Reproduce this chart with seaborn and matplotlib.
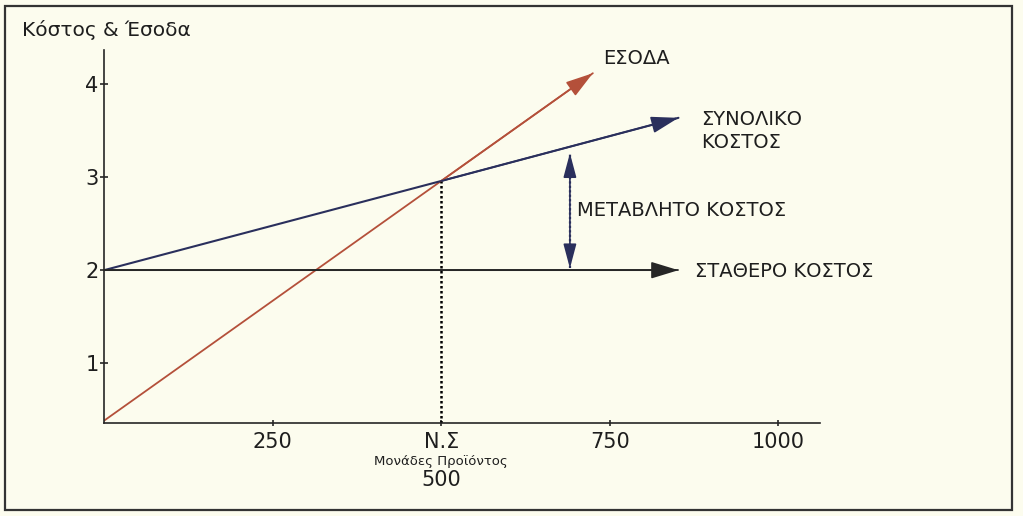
import matplotlib
matplotlib.use("Agg")
import matplotlib.pyplot as plt
from matplotlib.patches import Rectangle
import seaborn as sns
import pandas as pd

sns.set_style("ticks")
plt.rcParams['font.family'] = ['DejaVu Sans']

# values
units_revenue = [0, 500, 725]
revenue = [0.38, 2.96, 4.12]
units_total = [0, 500, 852]
total_cost = [2.0, 2.96, 3.64]
units_fixed = [0, 852]
fixed_cost = [2.0, 2.0]
break_even_units = 500
break_even_value = 2.96
variable_x = 691
variable_span = [2.02, 3.26]

x_ticks = [250, 500, 750, 1000]
x_ticklabels = ['250', 'Ν.Σ', '750', '1000']
y_ticks = [1, 2, 3, 4]

bg = '#fcfcee'
red = '#b4503a'
navy = '#2a2f5c'
dark = '#262626'
txt = '#1e1e1e'

fig = plt.figure(figsize=(10.23, 5.16), dpi=100, facecolor=bg)
ax = fig.add_axes([0.1017, 0.1802, 0.6999, 0.7229])
ax.set_facecolor(bg)

df_rev = pd.DataFrame({'units': units_revenue, 'value': revenue})
df_tot = pd.DataFrame({'units': units_total, 'value': total_cost})
df_fix = pd.DataFrame({'units': units_fixed, 'value': fixed_cost})

sns.lineplot(x='units', y='value', data=df_rev, color=red, lw=1.3, ax=ax)
sns.lineplot(x='units', y='value', data=df_tot, color=navy, lw=1.5, ax=ax)
sns.lineplot(x='units', y='value', data=df_fix, color=dark, lw=1.3, ax=ax)

def head(xy, xytext, color, hl=0.85, hw=0.26):
    ax.annotate('', xy=xy, xytext=xytext,
                arrowprops=dict(arrowstyle='-|>,head_length=%s,head_width=%s' % (hl, hw),
                                color=color, lw=1.2, shrinkA=0, shrinkB=0,
                                mutation_scale=20))

head((units_revenue[-1], revenue[-1]), (units_revenue[-2], revenue[-2]), red)
head((units_total[-1], total_cost[-1]), (units_total[-2], total_cost[-2]), navy)
head((units_fixed[-1], fixed_cost[-1]), (units_fixed[-2], fixed_cost[-2]), dark)

# break-even dotted line
ymin, ymax = 0.355, 4.37
ax.plot([break_even_units, break_even_units], [ymin, break_even_value],
        color='black', ls=(0, (1, 1)), lw=1.8)

# variable cost double arrow
ax.plot([variable_x, variable_x], variable_span, color=navy, ls=(0, (1, 1)), lw=1.6)
mid = sum(variable_span) / 2
head((variable_x, variable_span[1]), (variable_x, mid), navy, 0.75, 0.2)
head((variable_x, variable_span[0]), (variable_x, mid), navy, 0.75, 0.2)

ax.set_xlim(0, 1062)
ax.set_ylim(ymin, ymax)
ax.set_xticks(x_ticks)
ax.set_xticklabels(x_ticklabels)
ax.set_yticks(y_ticks)
ax.set_xlabel('')
ax.set_ylabel('')
sns.despine(ax=ax)
for s in ['left', 'bottom']:
    ax.spines[s].set_linewidth(1.2)
    ax.spines[s].set_color(dark)
ax.tick_params(axis='x', direction='inout', length=5, width=1.2, pad=4,
               labelsize=15, color=dark, labelcolor=txt)
ax.tick_params(axis='y', direction='inout', length=6, width=1.2, pad=1,
               labelsize=15, color=dark, labelcolor=txt)

# extra text under the break-even tick
ax.annotate('Μονάδες Προϊόντος', xy=(break_even_units, ymin), xycoords='data',
            xytext=(0, -28), textcoords='offset points', ha='center', va='center',
            fontsize=9.5, color=txt)
ax.annotate('500', xy=(break_even_units, ymin), xycoords='data',
            xytext=(0, -41), textcoords='offset points', ha='center', va='center',
            fontsize=15, color=txt)

# line labels
ax.text(740, 4.28, 'ΕΣΟΔΑ', fontsize=14, va='center', ha='left', color=txt)
ax.text(885, 3.5, 'ΣΥΝΟΛΙΚΟ\nΚΟΣΤΟΣ', fontsize=14, va='center', ha='left',
        color=txt, linespacing=1.25)
ax.text(702, 2.64, 'ΜΕΤΑΒΛΗΤΟ ΚΟΣΤΟΣ', fontsize=14, va='center', ha='left', color=txt)
ax.text(877, 1.99, 'ΣΤΑΘΕΡΟ ΚΟΣΤΟΣ', fontsize=14, va='center', ha='left', color=txt)

fig.text(22 / 1023, 1 - 30 / 516, 'Κόστος & Έσοδα', fontsize=14.5, va='center',
         ha='left', color=txt)

# frame round the whole picture
fig.patches.append(Rectangle((5 / 1023, 6 / 516), 1007 / 1023, 504 / 516,
                             transform=fig.transFigure, fill=False,
                             edgecolor='#333333', lw=1.6))

fig.savefig('out.png', dpi=100, facecolor=bg)
